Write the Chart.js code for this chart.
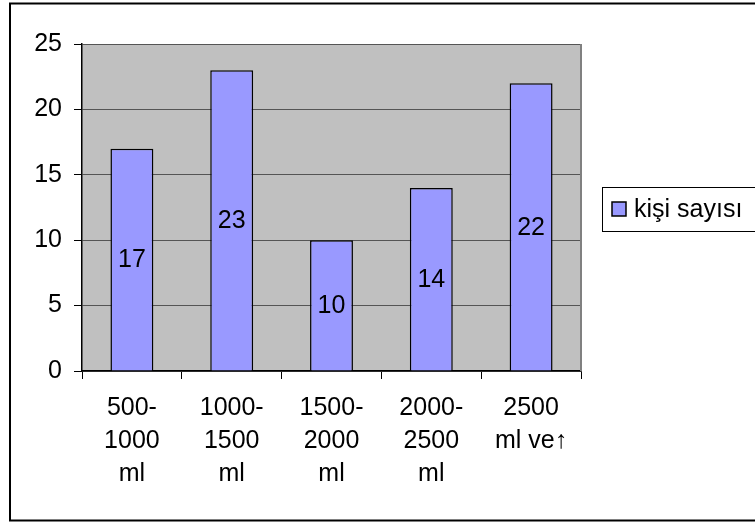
<!DOCTYPE html>
<html>
<head>
<meta charset="utf-8">
<script src="https://cdn.jsdelivr.net/npm/chart.js@4.4.1/dist/chart.umd.min.js"></script>
<style>
  html, body { margin: 0; padding: 0; background: #ffffff; }
  #wrap { position: relative; width: 755px; height: 522px; }
</style>
</head>
<body>
<div id="wrap"><canvas id="c" width="755" height="522"></canvas></div>
<script>
// Volume ranges (categories) and number of people in each range
const categories = [
  ['500-', '1000', 'ml'],
  ['1000-', '1500', 'ml'],
  ['1500-', '2000', 'ml'],
  ['2000-', '2500', 'ml'],
  ['2500', 'ml ve\u2191']
];
const seriesName = 'kişi sayısı';
const kisiSayisi = [17, 23, 10, 14, 22];
const yTicks = [0, 5, 10, 15, 20, 25];

const FONT = '"Liberation Sans", Arial, sans-serif';
const FONT_SIZE = 25;

// Gray plot area, right border and outer frame
const frame = {
  id: 'frame',
  beforeDraw(chart) {
    const { ctx, chartArea: a } = chart;
    ctx.save();
    ctx.fillStyle = '#C0C0C0';
    ctx.fillRect(a.left, a.top, a.right - a.left, a.bottom - a.top);
    ctx.restore();
  },
  afterDraw(chart) {
    const { ctx, chartArea: a } = chart;
    ctx.save();
    ctx.strokeStyle = '#808080';
    ctx.lineWidth = 2;
    ctx.beginPath();
    ctx.moveTo(a.right, a.top);
    ctx.lineTo(a.right, a.bottom);
    ctx.stroke();
    // outer chart frame
    ctx.strokeStyle = '#000000';
    ctx.lineWidth = 2;
    ctx.strokeRect(10, 3.5, 800, 517);
    ctx.restore();
  }
};

// Value labels centred inside each bar
const barValues = {
  id: 'barValues',
  afterDatasetsDraw(chart) {
    const { ctx } = chart;
    const meta = chart.getDatasetMeta(0);
    const data = chart.data.datasets[0].data;
    ctx.save();
    ctx.font = FONT_SIZE + 'px ' + FONT;
    ctx.fillStyle = '#000000';
    ctx.textAlign = 'center';
    ctx.textBaseline = 'middle';
    meta.data.forEach((bar, i) => {
      const y = (bar.y + bar.base) / 2;
      ctx.fillText(String(data[i]), bar.x, y + 1);
    });
    ctx.restore();
  }
};

// Boxed legend to the right of the plot
const boxLegend = {
  id: 'boxLegend',
  afterDraw(chart) {
    const { ctx } = chart;
    const ds = chart.data.datasets[0];
    const x = 602.5, y = 187.5, h = 44;
    ctx.save();
    ctx.fillStyle = '#ffffff';
    ctx.fillRect(x, y, 200, h);
    ctx.strokeStyle = '#000000';
    ctx.lineWidth = 1;
    ctx.strokeRect(x, y, 200, h);
    ctx.fillStyle = ds.backgroundColor;
    ctx.fillRect(612, 202, 14, 14);
    ctx.lineWidth = 1.5;
    ctx.strokeRect(612, 202, 14, 14);
    ctx.font = FONT_SIZE + 'px ' + FONT;
    ctx.fillStyle = '#000000';
    ctx.textAlign = 'left';
    ctx.textBaseline = 'middle';
    ctx.fillText(ds.label, 634, y + h / 2 + 1);
    ctx.restore();
  }
};

new Chart(document.getElementById('c'), {
  type: 'bar',
  data: {
    labels: categories,
    datasets: [{
      label: seriesName,
      data: kisiSayisi,
      backgroundColor: '#9999FF',
      borderColor: '#000000',
      borderWidth: 1.5,
      categoryPercentage: 1,
      barPercentage: 0.43
    }]
  },
  options: {
    responsive: false,
    animation: false,
    layout: { padding: { left: 0, top: 44, right: 174, bottom: 0 } },
    plugins: { legend: { display: false }, tooltip: { enabled: false } },
    scales: {
      x: {
        offset: true,
        grid: {
          offset: true,
          drawOnChartArea: false,
          drawTicks: true,
          tickLength: 8,
          tickColor: '#000000',
          tickWidth: 1
        },
        border: { display: true, color: '#000000', width: 1.5 },
        ticks: {
          color: '#000000',
          font: { family: FONT, size: FONT_SIZE, lineHeight: 1.32 },
          padding: 13,
          maxRotation: 0,
          autoSkip: false
        },
        afterFit(scale) { scale.height = 151; }
      },
      y: {
        min: 0,
        max: 25,
        afterBuildTicks(scale) { scale.ticks = yTicks.map(v => ({ value: v })); },
        grid: {
          color: '#555555',
          lineWidth: 1,
          tickLength: 8,
          tickColor: '#000000',
          tickWidth: 1
        },
        border: { display: true, color: '#000000', width: 1.5 },
        ticks: {
          color: '#000000',
          font: { family: FONT, size: FONT_SIZE },
          padding: 12
        },
        afterFit(scale) { scale.width = 82; }
      }
    }
  },
  plugins: [frame, barValues, boxLegend]
});
</script>
</body>
</html>
